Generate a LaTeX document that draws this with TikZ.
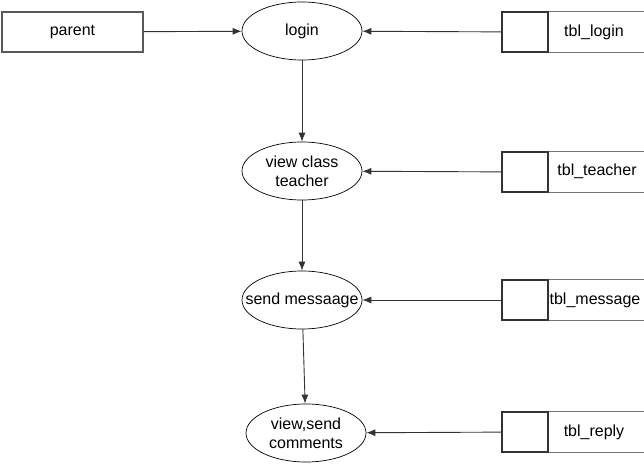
\documentclass[tikz,border=0pt]{standalone}
\usepackage{fontspec}
\setmainfont{Liberation Sans}
\usetikzlibrary{shapes.geometric,arrows.meta}
\begin{document}
\begin{tikzpicture}[x=1pt,y=-1pt,
  every node/.style={font=\fontsize{16}{19}\selectfont},
  ent/.style={draw=black!65,line width=1.1pt,minimum width=141pt,minimum height=40pt,inner sep=0pt},
  proc/.style={draw=black,line width=0.7pt,ellipse,inner sep=0pt,minimum width=120pt,minimum height=58pt},
  txt/.style={inner sep=0pt,align=center},
  sq/.style={draw=black!80,line width=1.2pt,minimum width=46pt,minimum height=40pt,inner sep=0pt},
  storeline/.style={draw=black!55,line width=1.1pt},
  flow/.style={draw=black!80,line width=0.9pt,-{Latex[length=9pt,width=7pt]}},
  lbl/.style={inner sep=0pt}]
\useasboundingbox (0,0) rectangle (644,465);
\node[ent] (parent) at (72.5,32) {parent};
\node[proc] (login) at (302,31) {};
\node[txt] at (login) {login};
\node[proc] (vct) at (302,171) {};
\node[txt] at (vct) {view class\\teacher};
\node[proc] (sm) at (302,300) {};
\node[txt] at (sm) {send messaage};
\node[proc] (vsc) at (306,433) {};
\node[txt] at (vsc) {view,send\\comments};
% stores
\node[sq] (s1) at (525,32) {};
\node[lbl] (t1) at (594,32) {tbl\_login};
\node[sq] (s2) at (525,172) {};
\node[lbl] (t2) at (597,171) {tbl\_teacher};
\node[sq] (s3) at (525,300) {};
\node[lbl] (t3) at (595,300) {tbl\_message};
\node[sq] (s4) at (525,432) {};
\node[lbl] (t4) at (594,432) {tbl\_reply};
\foreach \s in {s1,s2,s3,s4}{
  \draw[storeline] (\s.north east) -- ++(97,0);
  \draw[storeline] (\s.south east) -- ++(97,0);
}
% flows
\draw[flow] (parent) -- (login);
\draw[flow] (s1) -- (login);
\draw[flow] (s2) -- (vct);
\draw[flow] (s3) -- (sm);
\draw[flow] (s4) -- (vsc);
\draw[flow] (login) -- (vct);
\draw[flow] (vct) -- (sm);
\draw[flow] (sm) -- (vsc);
\end{tikzpicture}
\end{document}
